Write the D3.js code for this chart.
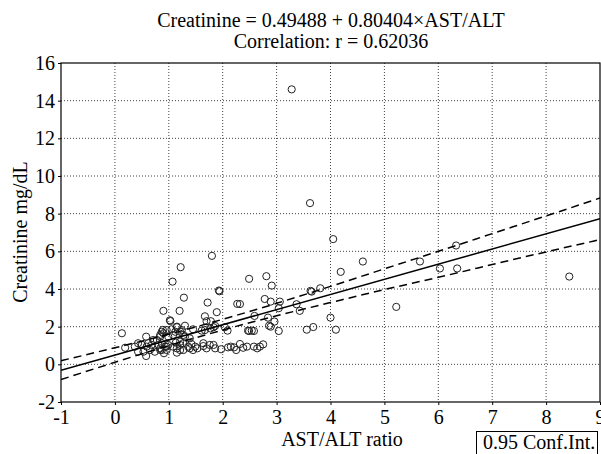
<!DOCTYPE html>
<html>
<head>
<meta charset="utf-8">
<script src="https://cdn.jsdelivr.net/npm/d3@7"></script>
<style>
  body { margin: 0; background: #fff; }
  svg text { font-family: "Liberation Serif", "DejaVu Serif", serif; fill: #000; }
</style>
</head>
<body>
<script>
"use strict"

// fit from the title
var intercept = 0.49488;
var slope = 0.80404;

var xTicks = [-1, 0, 1, 2, 3, 4, 5, 6, 7, 8, 9];
var yTicks = [-2, 0, 2, 4, 6, 8, 10, 12, 14, 16];

// 0.95 confidence band
var bandX = [-1, 0, 1, 2, 3, 4, 5, 6, 7, 8, 9];
var bandUpper = [0.19, 0.88, 1.60, 2.39, 3.24, 4.14, 5.07, 6.00, 6.94, 7.88, 8.83];
var bandLower = [-0.81, 0.11, 0.99, 1.82, 2.58, 3.28, 3.97, 4.62, 5.30, 5.97, 6.62];

// points: AST/ALT ratio
var astAlt = [
  3.28, 3.62, 4.05, 4.60, 5.66, 6.33, 6.03, 6.35, 5.22, 8.43, 4.19, 2.49, 2.81, 2.91, 3.81, 3.63, 3.65,
  2.78, 2.89, 3.06, 3.04, 3.37, 3.43, 2.59, 2.84, 2.96, 2.86, 2.89, 3.04, 2.49, 2.58, 3.56, 3.68, 4.00,
  4.10, 2.32, 2.75,
  1.80, 1.22, 1.07, 1.93, 1.94, 1.28, 1.72, 2.27, 0.90, 1.20, 1.89, 1.67, 1.70, 1.78, 1.02, 1.03, 1.86,
  0.89, 1.15, 1.24, 1.45, 1.61, 1.67, 1.77, 1.83, 2.04, 2.09, 2.47, 2.54,
  1.13, 1.21, 1.27, 1.42, 1.49, 1.53, 1.45, 1.64, 1.70, 1.83, 1.86, 1.97, 2.10, 2.15, 2.21, 2.32, 2.25,
  2.58, 2.64, 0.96, 0.87, 1.08, 0.91, 0.84, 1.21, 1.15, 1.27, 1.08, 0.99,
  0.13, 0.19, 0.58, 0.58, 0.43, 0.37, 0.50, 0.62, 0.68, 0.78, 0.84, 0.90, 0.96,
  0.43, 0.53, 0.65, 0.74, 0.84, 0.93, 0.99, 0.81, 0.71, 0.96,
  0.87, 1.05, 1.15, 1.12, 1.21, 0.84, 2.45, 2.38, 2.69,
  1.64, 1.76, 1.39, 1.36, 1.27, 1.15, 1.21, 0.87, 1.30, 1.39, 1.30, 0.59
];
// points: creatinine mg/dL
var creatinine = [
  14.6, 8.56, 6.65, 5.46, 5.46, 6.31, 5.09, 5.09, 3.05, 4.66, 4.91, 4.54, 4.68, 4.18, 4.04, 3.90, 3.86,
  3.47, 3.33, 3.33, 2.98, 3.19, 2.84, 2.57, 2.48, 2.27, 2.05, 2.00, 1.77, 1.77, 1.77, 1.84, 1.98, 2.48,
  1.84, 3.20, 1.06,
  5.76, 5.16, 4.39, 3.92, 3.88, 3.54, 3.28, 3.21, 2.84, 2.84, 2.77, 2.55, 2.29, 2.29, 2.34, 2.30, 2.04,
  1.83, 1.97, 1.82, 1.86, 1.79, 1.82, 1.91, 1.97, 1.97, 1.79, 1.79, 1.79,
  1.15, 1.20, 1.12, 1.08, 0.94, 0.85, 0.76, 0.97, 0.85, 1.03, 0.85, 0.80, 0.90, 0.94, 0.90, 1.08, 0.76,
  0.94, 0.85, 0.94, 1.12, 0.94, 0.59, 0.76, 0.76, 0.62, 1.56, 1.56, 1.47,
  1.65, 0.88, 1.47, 0.44, 1.12, 0.94, 1.03, 1.12, 1.03, 1.29, 1.47, 1.65, 1.82,
  0.67, 0.67, 0.76, 0.67, 0.85, 0.94, 1.03, 1.03, 1.29, 0.76,
  1.73, 1.86, 2.00, 1.73, 1.73, 1.56, 0.94, 0.88, 0.94,
  1.12, 1.03, 0.85, 0.94, 0.76, 0.85, 1.03, 0.76, 1.47, 1.38, 2.05, 0.94
];

var serif = "Liberation Serif, DejaVu Serif, serif";
var fs = 20;
var W = 601, H = 454;
var margin = {top: 63, right: 1, bottom: 52, left: 61},
    width = W - margin.left - margin.right,
    height = H - margin.top - margin.bottom;

var svg = d3.select("body").append("svg")
    .attr("width", W)
    .attr("height", H)
    .attr("font-family", serif);

var x = d3.scaleLinear().domain([-1, 9]).range([0, width]);
var y = d3.scaleLinear().domain([-2, 16]).range([height, 0]);

var g = svg.append("g")
    .attr("transform", "translate(" + margin.left + "," + margin.top + ")");

g.append("clipPath").attr("id", "plot")
  .append("rect").attr("width", width).attr("height", height);

// dotted grid
g.selectAll(".gx").data(xTicks.slice(1, -1)).enter().append("line")
    .attr("x1", d => x(d)).attr("x2", d => x(d))
    .attr("y1", 0).attr("y2", height)
    .attr("stroke", "#444").attr("stroke-width", 1)
    .attr("stroke-dasharray", "1,2");
g.selectAll(".gy").data(yTicks.slice(1, -1)).enter().append("line")
    .attr("x1", 0).attr("x2", width)
    .attr("y1", d => y(d)).attr("y2", d => y(d))
    .attr("stroke", "#444").attr("stroke-width", 1)
    .attr("stroke-dasharray", "1,2");

// axes (plain hyphen for negatives, like the original)
var fmt = d => String(d);
var xAxis = g.append("g")
    .attr("transform", "translate(0," + height + ")")
    .call(d3.axisBottom(x).tickValues(xTicks).tickFormat(fmt).tickSize(3).tickSizeOuter(0));
var yAxis = g.append("g")
    .call(d3.axisLeft(y).tickValues(yTicks).tickFormat(fmt).tickSize(3).tickSizeOuter(0));
[xAxis, yAxis].forEach(function(a) {
    a.attr("font-family", serif).attr("font-size", fs);
    a.select(".domain").remove();
    a.selectAll("text").attr("fill", "#000");
});
xAxis.selectAll("text").attr("dy", "0.8em");
yAxis.selectAll("text").attr("dx", "0");

// frame
g.append("rect")
    .attr("width", width).attr("height", height)
    .attr("fill", "none").attr("stroke", "#000").attr("stroke-width", 1.2);

var plot = g.append("g").attr("clip-path", "url(#plot)");

// points
plot.selectAll("circle").data(astAlt).enter().append("circle")
    .attr("cx", (d, i) => x(d))
    .attr("cy", (d, i) => y(creatinine[i]))
    .attr("r", 3.6)
    .attr("fill", "none")
    .attr("stroke", "#222")
    .attr("stroke-width", 1);

// regression line
var xs = x.domain();
plot.append("line")
    .attr("x1", x(xs[0])).attr("y1", y(intercept + slope * xs[0]))
    .attr("x2", x(xs[1])).attr("y2", y(intercept + slope * xs[1]))
    .attr("stroke", "#000").attr("stroke-width", 1.5);

// confidence band
var band = d3.line().curve(d3.curveNatural)
    .x(d => x(d[0])).y(d => y(d[1]));
[bandUpper, bandLower].forEach(function(b) {
    plot.append("path")
        .datum(bandX.map((d, i) => [d, b[i]]))
        .attr("d", band)
        .attr("fill", "none")
        .attr("stroke", "#000").attr("stroke-width", 1.5)
        .attr("stroke-dasharray", "8,5");
});

// titles
function label(xp, yp, s, anchor) {
    return svg.append("text")
        .attr("x", xp).attr("y", yp)
        .attr("text-anchor", anchor || "middle")
        .attr("font-family", serif).attr("font-size", fs)
        .text(s);
}
label(331, 27, "Creatinine = 0.49488 + 0.80404×AST/ALT");
label(331, 48, "Correlation: r = 0.62036");
label(342, 446, "AST/ALT ratio");
label(0, 0, "Creatinine mg/dL")
    .attr("transform", "translate(27,232) rotate(-90)");

// legend box
svg.append("rect")
    .attr("x", 476.5).attr("y", 431.5).attr("width", 121).attr("height", 30)
    .attr("fill", "#fff").attr("stroke", "#000").attr("stroke-width", 1);
label(483, 449, "0.95 Conf.Int.", "start");
</script>
</body>
</html>
